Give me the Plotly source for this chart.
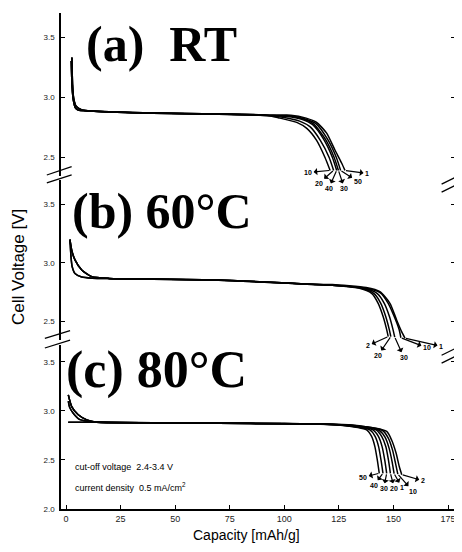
import plotly.graph_objects as go

# ---------------- data ----------------
cap_ticks = [0, 25, 50, 75, 100, 125, 150, 175]
volt_ticks_ab = [2.5, 3.0, 3.5]
volt_ticks_c = [2.0, 2.5, 3.0, 3.5]

# Panel (a) RT : initial drop + plateau (two variants), then the knees per cycle
a_head_cap = [[2.7, 3.0, 3.5, 4.6, 7.0, 10, 20, 40, 70, 92],
              [2.4, 2.8, 3.4, 4.3, 5.6, 10, 20, 40, 70, 92]]
a_head_v = [[3.33, 3.10, 2.99, 2.925, 2.895, 2.886, 2.878, 2.868, 2.86, 2.85],
            [3.30, 3.08, 2.97, 2.91, 2.892, 2.885, 2.876, 2.866, 2.858, 2.848]]
a_cycles = ["10", "20", "40", "30", "50", "1"]
a_tail_cap = [[98, 105.7, 110.3, 114.8, 118.6, 121.0],
              [100, 107.0, 112.0, 116.5, 120.5, 122.6],
              [101, 108.0, 113.0, 118.0, 122.0, 124.0],
              [101, 108.5, 113.5, 118.8, 122.8, 124.8],
              [102, 109.0, 114.5, 119.8, 123.8, 125.8],
              [103, 110.0, 114.8, 119.4, 123.2, 126.3, 127.8]]
a_tail_v = [[2.825, 2.79, 2.74, 2.64, 2.50, 2.39],
            [2.83, 2.80, 2.75, 2.64, 2.50, 2.39],
            [2.84, 2.815, 2.77, 2.65, 2.50, 2.39],
            [2.845, 2.82, 2.775, 2.65, 2.50, 2.39],
            [2.845, 2.82, 2.78, 2.65, 2.50, 2.39],
            [2.85, 2.825, 2.79, 2.70, 2.56, 2.45, 2.39]]

# Panel (b) 60 C
b_head_cap = [[1.8, 2.6, 4.1, 7.2, 11.8, 20, 40, 70, 100, 116],
              [1.8, 2.3, 2.8, 4.1, 7.2, 12, 20, 40, 70, 100, 116]]
b_head_v = [[3.20, 3.11, 3.026, 2.94, 2.883, 2.868, 2.862, 2.855, 2.83, 2.815],
            [3.20, 3.05, 2.97, 2.91, 2.88, 2.87, 2.866, 2.86, 2.853, 2.828, 2.813]]
b_cycles = ["2", "20", "30", "10", "1"]
b_tail_cap = [[122, 134, 140.0, 143.0, 145.3, 146.9, 147.6],
              [122, 135, 141.0, 144.2, 146.5, 148.1, 148.8],
              [122, 136, 142.5, 145.8, 148.2, 149.8, 150.6],
              [122, 137, 144.0, 147.6, 150.4, 152.6, 153.4],
              [122, 137.5, 143.8, 148.4, 151.5, 153.8, 155.3]]
b_tail_v = [[2.81, 2.785, 2.74, 2.655, 2.54, 2.43, 2.37],
            [2.81, 2.785, 2.74, 2.655, 2.54, 2.43, 2.37],
            [2.81, 2.785, 2.74, 2.655, 2.54, 2.43, 2.365],
            [2.81, 2.785, 2.745, 2.655, 2.54, 2.43, 2.36],
            [2.815, 2.79, 2.755, 2.655, 2.51, 2.41, 2.356]]

# Panel (c) 80 C
c_head_cap = [[1.05, 2.6, 5.6, 9.5, 14, 40, 70, 100, 116],
              [1.05, 1.6, 3.3, 6.4, 12, 40, 70, 100, 116],
              [1.0, 14, 40, 70, 100, 116]]
c_head_v = [[3.163, 3.044, 2.96, 2.908, 2.885, 2.88, 2.875, 2.87, 2.866],
            [3.10, 3.04, 2.976, 2.91, 2.888, 2.879, 2.874, 2.869, 2.865],
            [2.885, 2.884, 2.879, 2.874, 2.869, 2.865]]
c_cycles = ["50", "40", "30", "20", "1", "10", "2"]
c_tail_cap = [[125, 137.7, 140.0, 141.5, 142.6, 143.5],
              [126, 139.2, 141.6, 143.2, 144.3, 145.2],
              [127, 140.6, 143.1, 144.8, 146.0, 146.9],
              [128, 142.0, 144.6, 146.5, 147.7, 148.6],
              [129, 143.5, 146.2, 148.0, 149.4, 150.3],
              [130, 145.0, 147.7, 149.6, 151.0, 152.0],
              [131, 146.9, 149.2, 151.2, 152.7, 153.8]]
c_tail_v = [[2.855, 2.806, 2.74, 2.636, 2.50, 2.364],
            [2.855, 2.806, 2.74, 2.636, 2.50, 2.364],
            [2.855, 2.806, 2.74, 2.636, 2.50, 2.364],
            [2.855, 2.806, 2.74, 2.636, 2.50, 2.364],
            [2.855, 2.80, 2.73, 2.62, 2.48, 2.36],
            [2.855, 2.80, 2.72, 2.60, 2.46, 2.355],
            [2.855, 2.79, 2.70, 2.57, 2.43, 2.35]]

# ---------------- figure ----------------
fig = go.Figure()
LINE = dict(color="black", width=1.5, shape="spline", smoothing=0.6)

label_offsets = {
    "y": [(-22, 2), (-15, 13), (-8, 18), (6, 18), (17, 11), (22, 3)],
    "y2": [(-20, 9), (-13, 19), (9, 20), (26, 10), (36, 8)],
    "y3": [(-16, 4), (-9, 12), (-3, 15), (4, 15), (8, 14), (15, 17), (21, 6)],
}

annotations = []


def add_panel(head_cap, head_v, tail_cap, tail_v, cycles, yaxis):
    for i, (tc, tv) in enumerate(zip(tail_cap, tail_v)):
        hc = head_cap[i % len(head_cap)]
        hv = head_v[i % len(head_v)]
        fig.add_trace(go.Scatter(x=hc + tc, y=hv + tv, mode="lines", line=LINE,
                                 xaxis="x", yaxis=yaxis, showlegend=False,
                                 hoverinfo="skip"))
        ax, ay = label_offsets[yaxis][i]
        annotations.append(dict(
            x=tc[-1], y=tv[-1], xref="x", yref=yaxis, text="<b>" + cycles[i] + "</b>",
            showarrow=True, arrowhead=2, arrowsize=0.6, arrowwidth=1.2,
            arrowside="start", arrowcolor="black", ax=ax, ay=ay,
            standoff=1, font=dict(family="Arial", size=7, color="black")))


add_panel(a_head_cap, a_head_v, a_tail_cap, a_tail_v, a_cycles, "y")
add_panel(b_head_cap, b_head_v, b_tail_cap, b_tail_v, b_cycles, "y2")
add_panel(c_head_cap, c_head_v, c_tail_cap, c_tail_v, c_cycles, "y3")

TITLE_FONT = dict(family="Liberation Serif", size=50, color="black")
annotations += [
    dict(text="<b>(a)\u00a0\u00a0RT</b>", x=0.058, y=0.9375, xref="paper", yref="paper",
         xanchor="left", yanchor="middle", showarrow=False, font=TITLE_FONT),
    dict(text="<b>(b) 60°C</b>", x=0.023, y=0.601, xref="paper", yref="paper",
         xanchor="left", yanchor="middle", showarrow=False, font=TITLE_FONT),
    dict(text="<b>(c) 80°C</b>", x=0.008, y=0.281, xref="paper", yref="paper",
         xanchor="left", yanchor="middle", showarrow=False,
         font=dict(family="Liberation Serif", size=52, color="black")),
    dict(text="cut-off voltage  2.4-3.4 V", x=0.030, y=0.0847, xref="paper",
         yref="paper", xanchor="left", yanchor="middle", showarrow=False,
         font=dict(family="Arial", size=9, color="black")),
    dict(text="current density  0.5 mA/cm<sup>2</sup>", x=0.030, y=0.0444,
         xref="paper", yref="paper", xanchor="left", yanchor="middle",
         showarrow=False, font=dict(family="Arial", size=9, color="black")),
    dict(text="Capacity [mAh/g]", x=0.472, y=-0.0524, xref="paper",
         yref="paper", xanchor="center", yanchor="middle", showarrow=False,
         font=dict(family="Arial", size=14, color="black")),
    dict(text="Cell Voltage [V]", x=-0.1066, y=0.488, xref="paper",
         yref="paper", xanchor="center", yanchor="middle", showarrow=False,
         textangle=-90, font=dict(family="Arial", size=17, color="black")),
]

# axis-break marks (paper coordinates)
shapes = []
for (x0, y0, x1, y1) in [(-0.036, 0.6734, 0.027, 0.6901), (-0.036, 0.6573, 0.027, 0.6734),
                         (-0.041, 0.3442, 0.023, 0.3595), (-0.041, 0.3246, 0.023, 0.3407),
                         (0.966, 0.655, 1.017, 0.675), (0.966, 0.639, 1.017, 0.659),
                         (0.966, 0.310, 1.017, 0.330), (0.966, 0.294, 1.017, 0.314)]:
    shapes.append(dict(type="line", xref="paper", yref="paper", x0=x0, y0=y0,
                       x1=x1, y1=y1, line=dict(color="black", width=1.3)))

XR = [-2.3, 178.2]
yax_common = dict(showline=True, linecolor="black", linewidth=1.5, mirror="ticks",
                  ticks="inside", ticklen=4, tickwidth=1, tickcolor="black",
                  showgrid=False, zeroline=False, anchor="x", ticklabelstandoff=3,
                  automargin=False,
                  tickfont=dict(family="Arial", size=8, color="#222"))

# the page adds an 8 px body margin, so the figure is 8 px smaller in each direction
fig.update_layout(
    width=454, height=544,
    margin=dict(l=53, r=7, t=5, b=43, autoexpand=False),
    paper_bgcolor="white", plot_bgcolor="white",
    showlegend=False,
    xaxis=dict(range=XR, anchor="y3", tickvals=cap_ticks, ticks="inside",
               ticklen=4, tickcolor="black", showline=True, linecolor="black",
               linewidth=1.5, showgrid=False, zeroline=False, automargin=False,
               tickfont=dict(family="Arial", size=9, color="#222")),
    xaxis2=dict(range=XR, anchor="y", overlaying="x", side="top",
                tickvals=cap_ticks, ticks="inside", ticklen=4, tickcolor="black",
                showticklabels=False, showline=True, linecolor="black",
                linewidth=1.5, showgrid=False, zeroline=False, automargin=False),
    yaxis=dict(domain=[0.671, 1.0], range=[2.342, 3.70],
               tickvals=volt_ticks_ab, ticktext=[f"{v:.1f}" for v in volt_ticks_ab],
               **yax_common),
    yaxis2=dict(domain=[0.341, 0.663], range=[2.342, 3.709],
                tickvals=volt_ticks_ab, ticktext=[f"{v:.1f}" for v in volt_ticks_ab],
                **yax_common),
    yaxis3=dict(domain=[0.0, 0.331], range=[2.0, 3.673],
                tickvals=volt_ticks_c, ticktext=[f"{v:.1f}" for v in volt_ticks_c],
                **yax_common),
    annotations=annotations,
    shapes=shapes,
)

fig.write_html("out.html")
